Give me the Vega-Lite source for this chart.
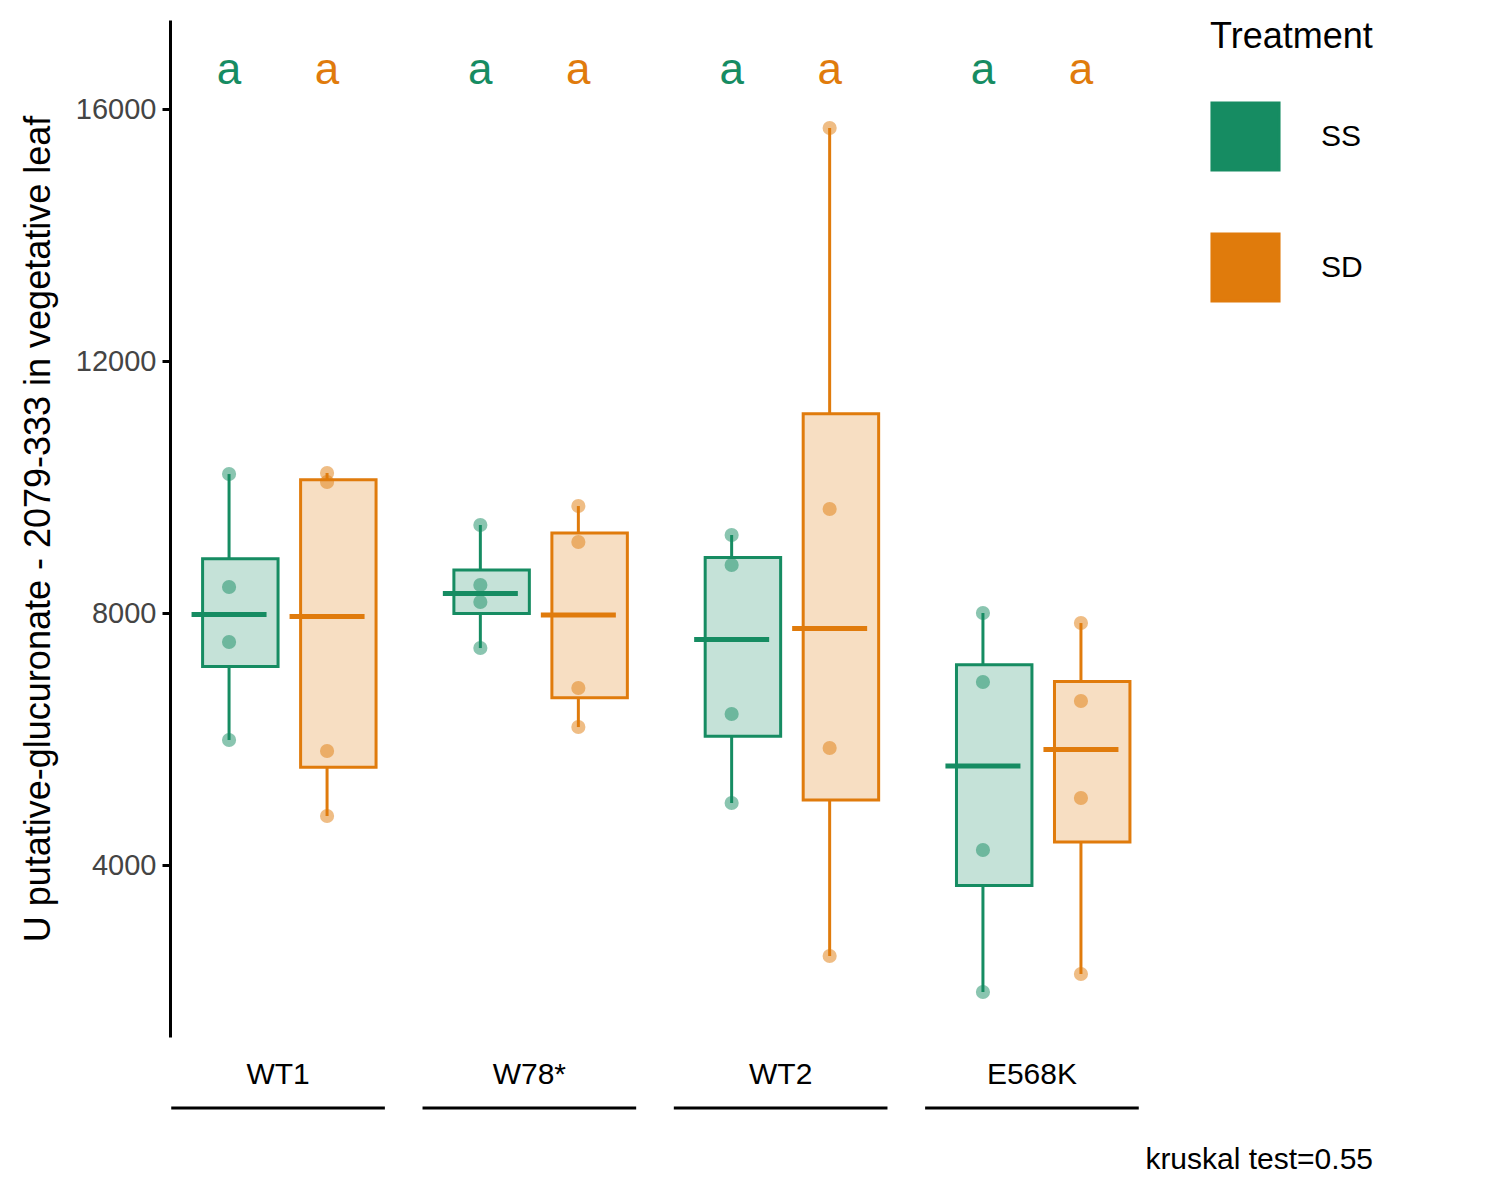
{
  "$schema": "https://vega.github.io/schema/vega-lite/v6.json",
  "width": 970,
  "height": 1017,
  "background": "white",
  "padding": {"left": 20, "top": 20, "right": 10, "bottom": 10},
  "config": {"font": "Liberation Sans", "view": {"stroke": null}},
  "title": {"text": "kruskal test=0.55", "orient": "bottom", "anchor": "end", "fontSize": 30, "fontWeight": "normal", "offset": 35, "color": "black"},
  "datasets": {
    "pts": [
      {"genotype": "WT1", "treatment": "SS", "value": 10206},
      {"genotype": "WT1", "treatment": "SS", "value": 8413},
      {"genotype": "WT1", "treatment": "SS", "value": 7540},
      {"genotype": "WT1", "treatment": "SS", "value": 5984},
      {"genotype": "WT1", "treatment": "SD", "value": 10222},
      {"genotype": "WT1", "treatment": "SD", "value": 10079},
      {"genotype": "WT1", "treatment": "SD", "value": 5810},
      {"genotype": "WT1", "treatment": "SD", "value": 4778},
      {"genotype": "W78*", "treatment": "SS", "value": 9397},
      {"genotype": "W78*", "treatment": "SS", "value": 8444},
      {"genotype": "W78*", "treatment": "SS", "value": 8175},
      {"genotype": "W78*", "treatment": "SS", "value": 7444},
      {"genotype": "W78*", "treatment": "SD", "value": 9698},
      {"genotype": "W78*", "treatment": "SD", "value": 9127},
      {"genotype": "W78*", "treatment": "SD", "value": 6810},
      {"genotype": "W78*", "treatment": "SD", "value": 6190},
      {"genotype": "WT2", "treatment": "SS", "value": 9238},
      {"genotype": "WT2", "treatment": "SS", "value": 8762},
      {"genotype": "WT2", "treatment": "SS", "value": 6397},
      {"genotype": "WT2", "treatment": "SS", "value": 4984},
      {"genotype": "WT2", "treatment": "SD", "value": 15698},
      {"genotype": "WT2", "treatment": "SD", "value": 9651},
      {"genotype": "WT2", "treatment": "SD", "value": 5857},
      {"genotype": "WT2", "treatment": "SD", "value": 2556},
      {"genotype": "E568K", "treatment": "SS", "value": 8000},
      {"genotype": "E568K", "treatment": "SS", "value": 6905},
      {"genotype": "E568K", "treatment": "SS", "value": 4238},
      {"genotype": "E568K", "treatment": "SS", "value": 1984},
      {"genotype": "E568K", "treatment": "SD", "value": 7841},
      {"genotype": "E568K", "treatment": "SD", "value": 6603},
      {"genotype": "E568K", "treatment": "SD", "value": 5063},
      {"genotype": "E568K", "treatment": "SD", "value": 2270}
    ],
    "letters": [
      {"genotype": "WT1", "treatment": "SS", "letter": "a", "pos": 16600},
      {"genotype": "WT1", "treatment": "SD", "letter": "a", "pos": 16600},
      {"genotype": "W78*", "treatment": "SS", "letter": "a", "pos": 16600},
      {"genotype": "W78*", "treatment": "SD", "letter": "a", "pos": 16600},
      {"genotype": "WT2", "treatment": "SS", "letter": "a", "pos": 16600},
      {"genotype": "WT2", "treatment": "SD", "letter": "a", "pos": 16600},
      {"genotype": "E568K", "treatment": "SS", "letter": "a", "pos": 16600},
      {"genotype": "E568K", "treatment": "SD", "letter": "a", "pos": 16600}
    ],
    "groups": [
      {"genotype": "WT1", "base": 143},
      {"genotype": "W78*", "base": 143},
      {"genotype": "WT2", "base": 143},
      {"genotype": "E568K", "base": 143}
    ]
  },
  "encoding": {
    "x": {
      "field": "genotype", "type": "nominal", "sort": ["WT1", "W78*", "WT2", "E568K"],
      "scale": {"paddingInner": 0.22, "paddingOuter": 0.04},
      "axis": {"title": null, "domain": false, "ticks": false, "labelAngle": 0, "labelFontSize": 30, "labelColor": "black", "labelPadding": 22}
    }
  },
  "layer": [
    {
      "data": {"name": "groups"},
      "mark": {"type": "rule", "strokeWidth": 3, "color": "black", "clip": false},
      "encoding": {
        "x": {"field": "genotype", "type": "nominal", "sort": ["WT1", "W78*", "WT2", "E568K"], "bandPosition": -0.045},
        "x2": {"field": "genotype", "bandPosition": 1.045},
        "y": {"field": "base", "type": "quantitative"}
      }
    },
    {
      "data": {"name": "pts"},
      "transform": [
        {"aggregate": [
          {"op": "min", "field": "value", "as": "lo"},
          {"op": "q1", "field": "value", "as": "q1"},
          {"op": "median", "field": "value", "as": "med"},
          {"op": "q3", "field": "value", "as": "q3"},
          {"op": "max", "field": "value", "as": "hi"}
        ], "groupby": ["genotype", "treatment"]}
      ],
      "encoding": {
        "xOffset": {"field": "treatment", "type": "nominal", "sort": ["SS", "SD"]},
        "color": {"field": "treatment", "type": "nominal", "sort": ["SS", "SD"],
          "scale": {"domain": ["SS", "SD"], "range": ["#168c62", "#e07b0c"]}}
      },
      "layer": [
        {"mark": {"type": "rule", "strokeWidth": 3},
         "encoding": {"y": {"field": "lo", "type": "quantitative"}, "y2": {"field": "q1"}}},
        {"mark": {"type": "rule", "strokeWidth": 3},
         "encoding": {"y": {"field": "q3", "type": "quantitative"}, "y2": {"field": "hi"}}},
        {"mark": {"type": "bar", "width": {"band": 0.77}, "fillOpacity": 0.25, "strokeWidth": 3},
         "encoding": {
           "y": {"field": "q1", "type": "quantitative"}, "y2": {"field": "q3"},
           "stroke": {"field": "treatment", "type": "nominal", "scale": {"domain": ["SS", "SD"], "range": ["#168c62", "#e07b0c"]}, "legend": null}
         }},
        {"mark": {"type": "tick", "size": 75, "thickness": 5, "opacity": 1},
         "encoding": {"y": {"field": "med", "type": "quantitative"}}}
      ]
    },
    {
      "data": {"name": "pts"},
      "mark": {"type": "circle", "size": 200, "opacity": 0.5},
      "encoding": {
        "xOffset": {"field": "treatment", "type": "nominal", "sort": ["SS", "SD"]},
        "y": {"field": "value", "type": "quantitative",
          "scale": {"domain": [1270, 17413], "nice": false, "zero": false},
          "axis": {"title": "U putative-glucuronate - 2079-333 in vegetative leaf", "titleFontSize": 36, "titleFontWeight": "normal", "titleColor": "black",
            "values": [4000, 8000, 12000, 16000], "format": "d", "labelFontSize": 29, "labelColor": "#444", "grid": false,
            "domainColor": "black", "domainWidth": 3, "tickColor": "black", "tickWidth": 3, "tickSize": 8, "labelPadding": 6, "titlePadding": 18}},
        "color": {"field": "treatment", "type": "nominal", "sort": ["SS", "SD"],
          "scale": {"domain": ["SS", "SD"], "range": ["#168c62", "#e07b0c"]},
          "legend": {"title": "Treatment", "titleFontSize": 36, "titleFontWeight": "normal", "titleColor": "black", "labelFontSize": 30, "labelColor": "black",
            "symbolType": "square", "symbolSize": 4500, "symbolOpacity": 0.3, "symbolStrokeWidth": 3, "rowPadding": 50, "labelOffset": 40, "offset": 70, "titlePadding": 45}}
      }
    },
    {
      "data": {"name": "letters"},
      "mark": {"type": "text", "fontSize": 44, "baseline": "middle"},
      "encoding": {
        "xOffset": {"field": "treatment", "type": "nominal", "sort": ["SS", "SD"]},
        "y": {"field": "pos", "type": "quantitative"},
        "text": {"field": "letter"},
        "color": {"field": "treatment", "type": "nominal", "sort": ["SS", "SD"]}
      }
    }
  ]
}
